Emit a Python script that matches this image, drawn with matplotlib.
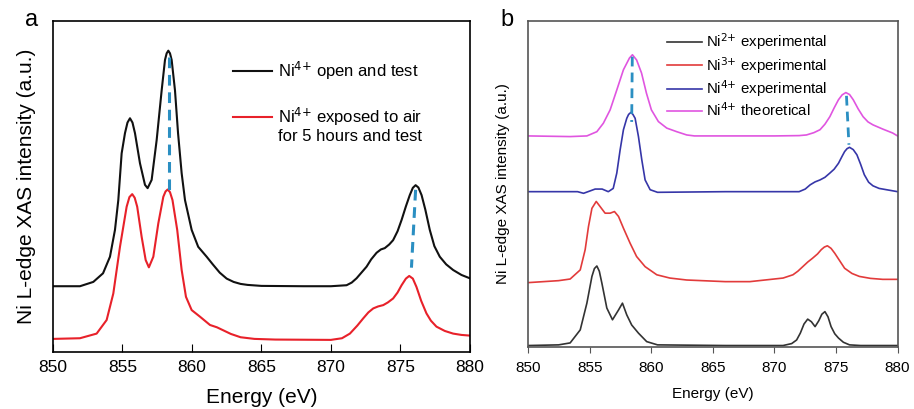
import matplotlib
matplotlib.use('Agg')
import matplotlib.pyplot as plt

plt.rcParams['font.family'] = ['Liberation Sans', 'DejaVu Sans']
plt.rcParams['mathtext.default'] = 'regular'
plt.rcParams['lines.solid_joinstyle'] = 'round'

# ---- panel a : Ni4+ fresh vs. exposed to air ----
e_open = [850, 851.94, 852.9, 853.6, 854.1, 854.46, 854.7, 854.94, 855.18, 855.36, 855.54,
          855.72, 855.9, 856.26, 856.62, 856.81, 857.1, 857.46, 857.82, 858.06, 858.18,
          858.3, 858.42, 858.54, 858.78, 859.0, 859.26, 859.5, 859.98, 860.45, 861.06, 861.5,
          862, 862.5, 863, 863.5, 864, 865, 868, 870, 871.13, 871.5, 871.85, 872.2, 872.57,
          872.9, 873.29, 873.6, 873.88, 874.2, 874.48, 874.8, 875.09, 875.4, 875.68, 875.9,
          876.1, 876.3, 876.53, 876.8, 877.12, 877.45, 877.84, 878.3, 878.8, 879.4, 880]
i_open = [0.199, 0.199, 0.212, 0.238, 0.288, 0.369, 0.459, 0.60, 0.661, 0.693, 0.706,
          0.693, 0.661, 0.57, 0.505, 0.495, 0.52, 0.64, 0.79, 0.882, 0.902,
          0.91, 0.902, 0.882, 0.79, 0.661, 0.54, 0.459, 0.369, 0.318, 0.288, 0.265,
          0.24, 0.222, 0.212, 0.206, 0.203, 0.2, 0.199, 0.199, 0.202, 0.21, 0.223, 0.24, 0.258,
          0.28, 0.30, 0.31, 0.314, 0.325, 0.338, 0.365, 0.399, 0.44, 0.474, 0.496,
          0.504, 0.497, 0.474, 0.43, 0.369, 0.32, 0.288, 0.265, 0.248, 0.233, 0.223]

e_air = [850, 851.94, 853.14, 853.86, 854.34, 854.82, 855.3, 855.5, 855.7, 855.88, 856.06,
         856.38, 856.67, 856.9, 857.22, 857.58, 857.94, 858.1, 858.25, 858.42, 858.6, 858.94,
         859.26, 859.57, 859.98, 860.58, 861.3, 861.8, 862.3, 862.8, 863.5, 864.5, 866, 870,
         870.8, 871.37, 871.9, 872.33, 872.7, 873.05, 873.4, 873.77, 874.1, 874.48, 874.8,
         875.09, 875.4, 875.64, 875.9, 876.16, 876.5, 876.88, 877.2, 877.6, 878.2, 878.8,
         879.4, 880]
i_air = [0.04, 0.042, 0.056, 0.097, 0.177, 0.318, 0.439, 0.468, 0.477, 0.466, 0.439,
         0.348, 0.278, 0.256, 0.288, 0.389, 0.469, 0.485, 0.491, 0.483, 0.459, 0.369,
         0.248, 0.167, 0.127, 0.107, 0.082, 0.075, 0.065, 0.055, 0.045, 0.04, 0.038, 0.037,
         0.042, 0.056, 0.08, 0.102, 0.12, 0.132, 0.138, 0.142, 0.15, 0.162, 0.18,
         0.202, 0.222, 0.23, 0.222, 0.197, 0.155, 0.117, 0.095, 0.077, 0.064, 0.056,
         0.052, 0.05]

# ---- panel b : reference spectra ----
e_ni2 = [850, 852.46, 853.4, 854.22, 854.76, 855.17, 855.37, 855.57, 855.77, 855.98, 856.38,
         856.84, 857.33, 857.65, 858.0, 858.4, 858.95, 859.62, 860.5, 866, 870.7, 871.4,
         871.8, 872.1, 872.4, 872.7, 873.0, 873.3, 873.6, 873.85, 874.1, 874.35, 874.6,
         874.9, 875.2, 875.6, 876.1, 877, 880]
i_ni2 = [0.004, 0.006, 0.012, 0.052, 0.134, 0.216, 0.24, 0.248, 0.232, 0.195, 0.119,
         0.083, 0.113, 0.134, 0.098, 0.067, 0.042, 0.016, 0.006, 0.004, 0.004, 0.01,
         0.021, 0.042, 0.07, 0.085, 0.077, 0.062, 0.08, 0.1, 0.108, 0.092, 0.062,
         0.04, 0.027, 0.014, 0.006, 0.004, 0.004]

e_ni3 = [850, 852.46, 853.4, 854.22, 854.62, 854.89, 855.17, 855.52, 855.84, 856.24, 856.65,
         857.0, 857.33, 857.73, 858.27, 858.8, 859.49, 860.44, 861.5, 862.87, 866, 868,
         870.7, 871.5, 871.9, 872.3, 872.7, 873.1, 873.5, 873.8, 874.05, 874.3, 874.6, 874.9,
         875.3, 875.7, 876.3, 876.9, 877.8, 878.8, 880]
i_ni3 = [0.197, 0.203, 0.208, 0.236, 0.298, 0.369, 0.425, 0.446, 0.43, 0.41, 0.41,
         0.415, 0.40, 0.364, 0.318, 0.277, 0.246, 0.221, 0.211, 0.205, 0.2, 0.2,
         0.211, 0.221, 0.232, 0.246, 0.26, 0.272, 0.285, 0.298, 0.306, 0.31, 0.302, 0.287,
         0.264, 0.241, 0.225, 0.216, 0.21, 0.207, 0.207]

e_ni4 = [850, 854.0, 854.49, 855.0, 855.43, 856.0, 856.5, 856.9, 857.19, 857.46, 857.73,
         858.0, 858.15, 858.33, 858.5, 858.68, 858.95, 859.22, 859.49, 859.9, 860.5, 866,
         872.0, 872.5, 872.9, 873.3, 873.7, 874.1, 874.5, 874.85, 875.2, 875.5, 875.7, 875.9,
         876.1, 876.4, 876.7, 877.0, 877.3, 877.65, 878.0, 878.5, 879.1, 880]
i_ni4 = [0.476, 0.476, 0.471, 0.478, 0.484, 0.484, 0.476, 0.486, 0.533, 0.604, 0.666,
         0.701, 0.713, 0.719, 0.713, 0.701, 0.645, 0.574, 0.512, 0.482, 0.474, 0.476,
         0.476, 0.484, 0.497, 0.506, 0.512, 0.52, 0.533, 0.545, 0.563, 0.585, 0.599, 0.608,
         0.612, 0.605, 0.589, 0.56, 0.528, 0.505, 0.494, 0.486, 0.482, 0.476]

e_theo = [850, 853.4, 854.76, 855.57, 856.1, 856.65, 857.19, 857.73, 858.22, 858.46, 858.8,
          859.2, 859.6, 860.0, 860.57, 861.25, 862.06, 862.87, 863.5, 866, 870, 872.0,
          872.6, 873.2, 873.7, 874.1, 874.5, 874.85, 875.2, 875.5, 875.8, 876.1, 876.4,
          876.8, 877.2, 877.6, 878.0, 878.8, 879.6, 880]
i_theo = [0.647, 0.645, 0.647, 0.66, 0.686, 0.727, 0.788, 0.85, 0.886, 0.896, 0.88,
          0.84, 0.778, 0.727, 0.691, 0.671, 0.66, 0.65, 0.647, 0.647, 0.647, 0.648,
          0.65, 0.657, 0.666, 0.683, 0.706, 0.733, 0.758, 0.773, 0.78, 0.774, 0.758,
          0.73, 0.706, 0.69, 0.681, 0.668, 0.656, 0.647]

# peak-shift guide lines (energy, intensity pairs)
guide_a = [([858.35, 858.35], [0.89, 0.49]), ([876.1, 875.8], [0.49, 0.255])]
guide_b = [([858.45, 858.4], [0.89, 0.69]), ([875.85, 876.05], [0.77, 0.62])]

xticks = [850, 855, 860, 865, 870, 875, 880]
dash_col = '#2b8fc2'

fig = plt.figure(figsize=(9.14, 4.09), dpi=100)
ax1 = fig.add_axes([0.058, 0.139, 0.456, 0.810])
ax2 = fig.add_axes([0.578, 0.152, 0.404, 0.797])

# panel a
ax1.plot(e_open, i_open, color='#111111', lw=1.5)
ax1.plot(e_air, i_air, color='#e8212a', lw=1.5)
for gx, gy in guide_a:
    ax1.plot(gx, gy, color=dash_col, lw=2.2, ls=(0, (3.5, 2.2)))
ax1.set_xlim(850, 880)
ax1.set_ylim(0, 1)
ax1.set_xticks(xticks)
ax1.set_yticks([])
ax1.tick_params(axis='x', direction='in', length=6, labelsize=12.5, pad=6)
ax1.set_xlabel('Energy (eV)', fontsize=15, labelpad=9)
ax1.set_ylabel('Ni L-edge XAS intensity (a.u.)', fontsize=15, labelpad=12)
for s in ax1.spines.values():
    s.set_linewidth(1.2)

# hand-made legend for panel a (second entry spans two lines)
ax1.plot([0.432, 0.525], [0.849, 0.849], transform=ax1.transAxes, color='#111111', lw=1.5)
ax1.plot([0.432, 0.525], [0.710, 0.710], transform=ax1.transAxes, color='#e8212a', lw=1.5)
ax1.text(0.540, 0.849, r'Ni$^{\text{4+}}$ open and test', transform=ax1.transAxes,
         fontsize=12, va='center')
ax1.text(0.540, 0.710, r'Ni$^{\text{4+}}$ exposed to air', transform=ax1.transAxes,
         fontsize=12, va='center')
ax1.text(0.540, 0.650, 'for 5 hours and test', transform=ax1.transAxes,
         fontsize=12, va='center')

# panel b
ax2.plot(e_ni2, i_ni2, color='#333333', lw=1.2, label=r'Ni$^{\text{2+}}$ experimental')
ax2.plot(e_ni3, i_ni3, color='#e23b3b', lw=1.2, label=r'Ni$^{\text{3+}}$ experimental')
ax2.plot(e_ni4, i_ni4, color='#3636a8', lw=1.2, label=r'Ni$^{\text{4+}}$ experimental')
ax2.plot(e_theo, i_theo, color='#e055e0', lw=1.2, label=r'Ni$^{\text{4+}}$ theoretical')
for gx, gy in guide_b:
    ax2.plot(gx, gy, color=dash_col, lw=2.0, ls=(0, (3.5, 2.2)))
ax2.set_xlim(850, 880)
ax2.set_ylim(0, 1)
ax2.set_xticks(xticks)
ax2.set_yticks([])
ax2.tick_params(axis='x', direction='out', length=4, labelsize=11, pad=6,
                color='#555555')
ax2.set_xlabel('Energy (eV)', fontsize=11, labelpad=9)
ax2.set_ylabel('Ni L-edge XAS intensity (a.u.)', fontsize=11, labelpad=13)
for s in ax2.spines.values():
    s.set_linewidth(1.2)
    s.set_color('#555555')
leg = ax2.legend(loc='upper left', bbox_to_anchor=(0.376, 0.968), frameon=False,
                 fontsize=10.8, handlelength=2.3, handletextpad=0.3, labelspacing=0.15,
                 borderpad=0, borderaxespad=0)

fig.text(0.035, 0.95, 'a', fontsize=17, ha='center', va='center')
fig.text(0.555, 0.952, 'b', fontsize=17, ha='center', va='center')

fig.savefig('out.png', dpi=100, facecolor='white')
